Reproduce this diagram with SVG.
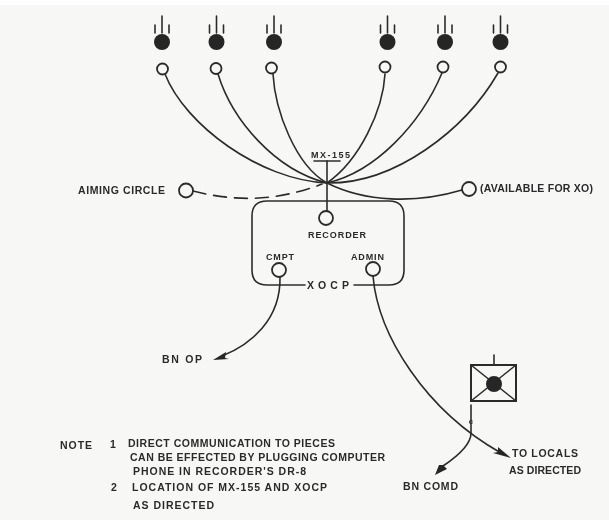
<svg xmlns="http://www.w3.org/2000/svg" width="609" height="520" viewBox="0 0 609 520">
<style>
.l{fill:none;stroke:#2b2b2b;stroke-width:1.6;stroke-linecap:round}
.o{fill:#f7f7f5;stroke:#2b2b2b;stroke-width:1.8}
.k{fill:#262626;stroke:none}
text{font-family:"Liberation Sans",Arial,sans-serif;font-size:10.5px;font-weight:700;fill:#2b2b2b}
.s{font-size:9px}
</style>
<defs>
<g id="gun"><path class="l" d="M0-26V-9M-7-17V-9M7-17V-9"/><circle class="k" r="8"/></g>
<filter id="b" x="-5%" y="-5%" width="110%" height="110%"><feGaussianBlur stdDeviation=".45"/></filter>
</defs>
<rect width="609" height="520" fill="#ffffff"/>
<rect x="0" y="5" width="609" height="515" fill="#f7f7f5"/>
<g filter="url(#b)">
<g id="connectors">
<path class="l" d="M165 74C185 125 260 180 327 183"/>
<path class="l" d="M218 74C232 120 275 170 327 183"/>
<path class="l" d="M273 74C275 110 295 165 327 183"/>
<path class="l" d="M385 74C383 110 360 160 327 183"/>
<path class="l" d="M442 73C420 125 375 172 327 183"/>
<path class="l" d="M498 73C465 130 395 184 327 183"/>
<path class="l" d="M327 161V211"/>
<path class="l" d="M327 183C365 202 415 204 462 190"/>
<path class="l" d="M193 191C240 203 280 200 322 184" stroke-dasharray="13 8"/>
<path class="l" d="M280 277C281 320 250 345 222 356"/>
<path class="l" d="M373 276C378 335 425 410 501 453"/>
<path class="l" d="M471 405V433C471 445 455 458 443 466"/>
<path class="k" d="M213 360L226 352L225 358L229 359Z"/>
<path class="k" d="M511 458L498 447L498 452L493 453Z"/>
<path class="k" d="M435 475L439 465L443 465L447 469Z"/>
</g>
<g id="xocp">
<path class="l" d="M305 285H267Q252 285 252 270V216Q252 201 267 201H389Q404 201 404 216V270Q404 285 389 285H354"/>
<text x="307" y="289" textLength="42">XOCP</text>
</g>
<g id="gun1"><use href="#gun" x="162" y="42"/><circle class="o" cx="162.500" cy="69" r="5.500"/></g>
<g id="gun2"><use href="#gun" x="216.500" y="42"/><circle class="o" cx="216" cy="68.500" r="5.500"/></g>
<g id="gun3"><use href="#gun" x="274" y="42"/><circle class="o" cx="271.500" cy="68" r="5.500"/></g>
<g id="gun4"><use href="#gun" x="387.500" y="42"/><circle class="o" cx="385" cy="67" r="5.500"/></g>
<g id="gun5"><use href="#gun" x="445" y="42"/><circle class="o" cx="443" cy="67" r="5.500"/></g>
<g id="gun6"><use href="#gun" x="500.500" y="42"/><circle class="o" cx="500.500" cy="67" r="5.500"/></g>
<g id="mx155"><text class="s" x="311" y="158" textLength="39">MX-155</text><path class="l" d="M314 161H340"/></g>
<g id="aiming"><text x="78" y="194" textLength="87">AIMING  CIRCLE</text><circle class="o" cx="186" cy="190.500" r="7"/></g>
<g id="available"><circle class="o" cx="469" cy="189" r="7"/><text x="480" y="192" textLength="113">(AVAILABLE FOR XO)</text></g>
<g id="recorder"><circle class="o" cx="326" cy="218" r="7"/><text class="s" x="308" y="238" textLength="58">RECORDER</text></g>
<g id="cmpt"><circle class="o" cx="279" cy="270" r="7"/><text class="s" x="266" y="260" textLength="28">CMPT</text></g>
<g id="admin"><circle class="o" cx="373" cy="269" r="7"/><text class="s" x="351" y="260" textLength="33">ADMIN</text></g>
<g id="switchboard">
<path class="l" d="M494 355V365"/>
<rect x="471" y="365" width="45" height="36" fill="none" stroke="#2b2b2b" stroke-width="2"/>
<path class="l" d="M471 365L516 401M516 365L471 401"/>
<circle class="k" cx="494" cy="384" r="8"/>
<text x="471" y="424" text-anchor="middle" style="font-size:8px">c</text>
</g>
<g id="labels">
<text x="162" y="363" textLength="40">BN  OP</text>
<text x="403" y="490" textLength="55">BN  COMD</text>
<text x="512" y="457" textLength="66">TO LOCALS</text>
<text x="509" y="474" textLength="72">AS DIRECTED</text>
<text x="60" y="449" textLength="32">NOTE</text>
<text x="110" y="448">1</text>
<text x="128" y="447" textLength="207">DIRECT COMMUNICATION TO PIECES</text>
<text x="130" y="461" textLength="255">CAN BE EFFECTED BY PLUGGING COMPUTER</text>
<text x="133" y="475" textLength="173">PHONE IN RECORDER'S  DR-8</text>
<text x="111" y="491">2</text>
<text x="132" y="491" textLength="195">LOCATION OF MX-155 AND XOCP</text>
<text x="133" y="509" textLength="81">AS DIRECTED</text>
</g>
</g>
</svg>
